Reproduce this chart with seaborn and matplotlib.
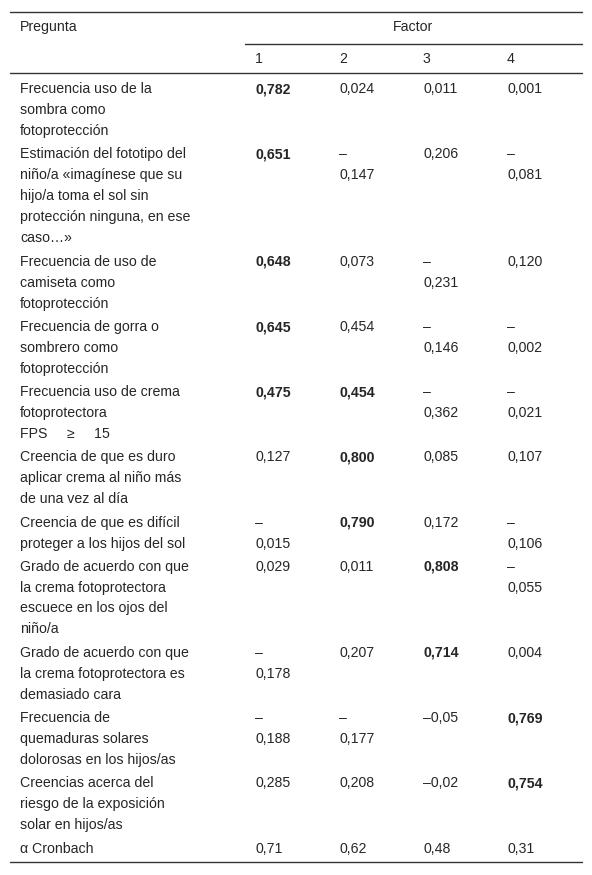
import matplotlib
matplotlib.use("Agg")
import matplotlib.pyplot as plt
import seaborn as sns

sns.set_theme(style="white")
plt.rcParams['font.family'] = ['Liberation Sans', 'DejaVu Sans']

questions = [
    "Frecuencia uso de la\nsombra como\nfotoprotección",
    "Estimación del fototipo del\nniño/a «imagínese que su\nhijo/a toma el sol sin\nprotección ninguna, en ese\ncaso…»",
    "Frecuencia de uso de\ncamiseta como\nfotoprotección",
    "Frecuencia de gorra o\nsombrero como\nfotoprotección",
    "Frecuencia uso de crema\nfotoprotectora\nFPS     ≥     15",
    "Creencia de que es duro\naplicar crema al niño más\nde una vez al día",
    "Creencia de que es difícil\nproteger a los hijos del sol",
    "Grado de acuerdo con que\nla crema fotoprotectora\nescuece en los ojos del\nniño/a",
    "Grado de acuerdo con que\nla crema fotoprotectora es\ndemasiado cara",
    "Frecuencia de\nquemaduras solares\ndolorosas en los hijos/as",
    "Creencias acerca del\nriesgo de la exposición\nsolar en hijos/as",
    "α Cronbach",
]
f1 = ["0,782", "0,651", "0,648", "0,645", "0,475", "0,127", "–\n0,015", "0,029", "–\n0,178", "–\n0,188", "0,285", "0,71"]
f2 = ["0,024", "–\n0,147", "0,073", "0,454", "0,454", "0,800", "0,790", "0,011", "0,207", "–\n0,177", "0,208", "0,62"]
f3 = ["0,011", "0,206", "–\n0,231", "–\n0,146", "–\n0,362", "0,085", "0,172", "0,808", "0,714", "–0,05", "–0,02", "0,48"]
f4 = ["0,001", "–\n0,081", "0,120", "–\n0,002", "–\n0,021", "0,107", "–\n0,106", "–\n0,055", "0,004", "0,769", "0,754", "0,31"]
bold = {(0, 0), (1, 0), (2, 0), (3, 0), (4, 0), (4, 1), (5, 1), (6, 1), (7, 2), (8, 2), (9, 3), (10, 3)}
factor_labels = ["1", "2", "3", "4"]

W, H = 592, 875
fig = plt.figure(figsize=(W / 100, H / 100), dpi=100)
ax = fig.add_axes([0, 0, 1, 1])
ax.set_xlim(0, W)
ax.set_ylim(H, 0)
ax.axis("off")

fs = 10.2
lh = 21.2
ls = 1.63
col_x = [255, 339, 423, 507]
tx = 20
ax.text(tx, 27, "Pregunta", fontsize=fs, va="center")
ax.text(413, 27, "Factor", fontsize=fs, va="center", ha="center")
for x, lab in zip(col_x, factor_labels):
    ax.text(x, 59, lab, fontsize=fs, va="center")

ax.plot([10, 582], [12, 12], color="#333", lw=1)
ax.plot([245, 582], [44, 44], color="#333", lw=1)
ax.plot([10, 582], [73, 73], color="#333", lw=1)
ax.plot([10, 582], [862, 862], color="#333", lw=1)

y = 89
for i, q in enumerate(questions):
    ax.text(tx, y - 7, q, fontsize=fs, va="top", linespacing=ls)
    vals = [f1[i], f2[i], f3[i], f4[i]]
    for j, v in enumerate(vals):
        ax.text(col_x[j], y - 7, v, fontsize=fs, va="top", linespacing=ls,
                fontweight="bold" if (i, j) in bold else "normal")
    n = max(q.count("\n"), *(v.count("\n") for v in vals)) + 1
    y += n * lh + 1.6

fig.savefig("out.png", dpi=100, facecolor="white")
